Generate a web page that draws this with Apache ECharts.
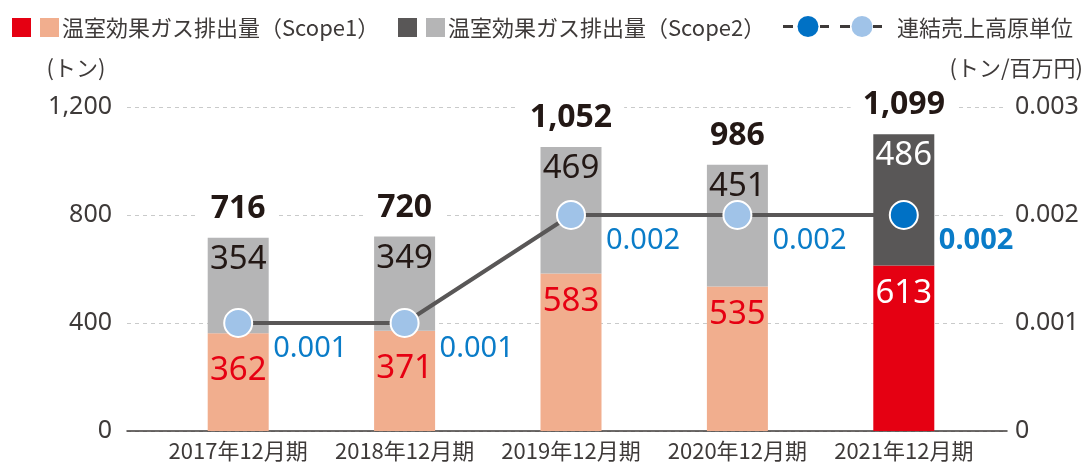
<!DOCTYPE html>
<html><head><meta charset="utf-8">
<script src="https://cdn.jsdelivr.net/npm/echarts@6/dist/echarts.min.js"></script>
<style>html,body{margin:0;padding:0;background:#fff}#c{width:1087px;height:463px}</style>
</head><body><div id="c"></div>
<script>
const categories = ['2017年12月期','2018年12月期','2019年12月期','2020年12月期','2021年12月期'];
const scope1 = [362, 371, 583, 535, 613];
const scope2 = [354, 349, 469, 451, 486];
const totals = [716, 720, 1052, 986, 1099];
const intensity = [0.001, 0.001, 0.002, 0.002, 0.002];
const leftTicks = [0, 400, 800, 1200];
const rightTicks = [0, 0.001, 0.002, 0.003];

const NUM = "'Noto Sans',sans-serif";
const JP = "'Noto Sans CJK JP','Noto Sans',sans-serif";
const TXT = '#3e3a39';
const last = categories.length - 1;

const chart = echarts.init(document.getElementById('c'), null, {renderer: 'canvas'});
const fmtL = v => v.toLocaleString('en-US');
const fmtR = v => v === 0 ? '0' : v.toFixed(3);

const option = {
  animation: false,
  grid: [
    {left: 127, right: 80, top: 107, bottom: 32},
    {left: 155, right: 100, top: 107, bottom: 32}
  ],
  xAxis: [
    {gridIndex: 0, type: 'value', min: 0, max: 1, axisLine: {show: true, lineStyle: {color: '#3e3a39', width: 1.5}},
     axisTick: {show: false}, axisLabel: {show: false}, splitLine: {show: false}},
    {gridIndex: 1, type: 'category', data: categories, axisLine: {show: false}, axisTick: {show: false},
     axisLabel: {interval: 0, fontFamily: JP, fontSize: 22, color: TXT, margin: 9}}
  ],
  yAxis: [
    {gridIndex: 0, type: 'value', min: leftTicks[0], max: leftTicks[leftTicks.length-1], interval: leftTicks[1]-leftTicks[0],
     axisLine: {show: false}, axisTick: {show: false},
     axisLabel: {formatter: fmtL, fontFamily: NUM, fontSize: 25, color: TXT, margin: 15},
     splitLine: {lineStyle: {color: '#c9caca', type: [4, 4], width: 1}}},
    {gridIndex: 0, type: 'value', position: 'right', min: rightTicks[0], max: rightTicks[rightTicks.length-1], interval: 0.001,
     axisLine: {show: false}, axisTick: {show: false},
     axisLabel: {formatter: fmtR, fontFamily: NUM, fontSize: 25, color: TXT, margin: 8},
     splitLine: {show: false}},
    {gridIndex: 1, type: 'value', min: 0, max: 1200, show: false},
    {gridIndex: 1, type: 'value', min: 0, max: 0.003, show: false}
  ],
  series: [
    {
      name: 'total', type: 'bar', xAxisIndex: 1, yAxisIndex: 2, barWidth: 61, barGap: '-100%', z: 1,
      data: totals, itemStyle: {color: 'rgba(0,0,0,0)'},
      label: {show: true, position: 'top', distance: 13, formatter: p => fmtL(p.value),
        fontFamily: NUM, fontWeight: 'bold', fontSize: 32, color: '#231815',
        backgroundColor: '#fff', padding: [0, 12]}
    },
    {
      name: 'scope1', type: 'bar', stack: 'g', xAxisIndex: 1, yAxisIndex: 2, barWidth: 61, barGap: '-100%', z: 2,
      data: scope1.map((v, i) => ({value: v,
        itemStyle: {color: i === last ? '#e50012' : '#f1ae8e'},
        label: {color: i === last ? '#ffffff' : '#e60012', offset: [0, i < 2 ? 9 : 0]}})),
      label: {show: true, position: 'insideTop', distance: 12, fontFamily: NUM, fontSize: 33}
    },
    {
      name: 'scope2', type: 'bar', stack: 'g', xAxisIndex: 1, yAxisIndex: 2, barWidth: 61, barGap: '-100%', z: 2,
      data: scope2.map((v, i) => ({value: v,
        itemStyle: {color: i === last ? '#595757' : '#b5b5b6'},
        label: {color: i === last ? '#ffffff' : '#231815'}})),
      label: {show: true, position: 'insideTop', distance: 5, fontFamily: NUM, fontSize: 33}
    },
    {
      name: 'intensity', type: 'line', xAxisIndex: 1, yAxisIndex: 3, z: 5,
      symbol: 'circle', symbolSize: 28,
      lineStyle: {color: '#595757', width: 4},
      data: intensity.map((v, i) => ({value: v,
        itemStyle: {color: i === last ? '#0071c5' : '#a0c3e8', borderColor: '#fff', borderWidth: 2},
        label: {fontWeight: i === last ? 'bold' : 'normal'}})),
      label: {show: true, position: 'right', distance: 20, offset: [0, 26], formatter: p => p.value.toFixed(3),
        fontFamily: NUM, fontSize: 29, color: '#0a7cc8'}
    }
  ],
  graphic: [
    {type: 'rect', shape: {x: 12, y: 18, width: 19, height: 19}, style: {fill: '#e50012'}},
    {type: 'rect', shape: {x: 40, y: 18, width: 19, height: 19}, style: {fill: '#f1ae8e'}},
    {type: 'text', x: 62, y: 28, style: {text: '温室効果ガス排出量（Scope1）', font: '22px ' + JP, fill: TXT, textVerticalAlign: 'middle'}},
    {type: 'rect', shape: {x: 398, y: 18, width: 19, height: 19}, style: {fill: '#595757'}},
    {type: 'rect', shape: {x: 426, y: 18, width: 19, height: 19}, style: {fill: '#b5b5b6'}},
    {type: 'text', x: 448, y: 28, style: {text: '温室効果ガス排出量（Scope2）', font: '22px ' + JP, fill: TXT, textVerticalAlign: 'middle'}},
    {type: 'rect', shape: {x: 783, y: 25, width: 10, height: 3}, style: {fill: '#3e3a39'}},
    {type: 'circle', shape: {cx: 808, cy: 26.5, r: 10.5}, style: {fill: '#0071c5'}},
    {type: 'rect', shape: {x: 820, y: 25, width: 9, height: 3}, style: {fill: '#3e3a39'}},
    {type: 'rect', shape: {x: 840, y: 25, width: 10, height: 3}, style: {fill: '#3e3a39'}},
    {type: 'circle', shape: {cx: 862, cy: 26.5, r: 10.5}, style: {fill: '#a0c3e8'}},
    {type: 'rect', shape: {x: 873, y: 25, width: 9, height: 3}, style: {fill: '#3e3a39'}},
    {type: 'text', x: 897, y: 28, style: {text: '連結売上高原単位', font: '22px ' + JP, fill: TXT, textVerticalAlign: 'middle'}},
    {type: 'text', x: 76, y: 68, style: {text: '(トン)', font: '22px ' + JP, fill: TXT, textAlign: 'center', textVerticalAlign: 'middle'}},
    {type: 'text', x: 1083, y: 68, style: {text: '(トン/百万円)', font: '22px ' + JP, fill: TXT, textAlign: 'right', textVerticalAlign: 'middle'}}
  ]
};
chart.setOption(option);
</script></body></html>
